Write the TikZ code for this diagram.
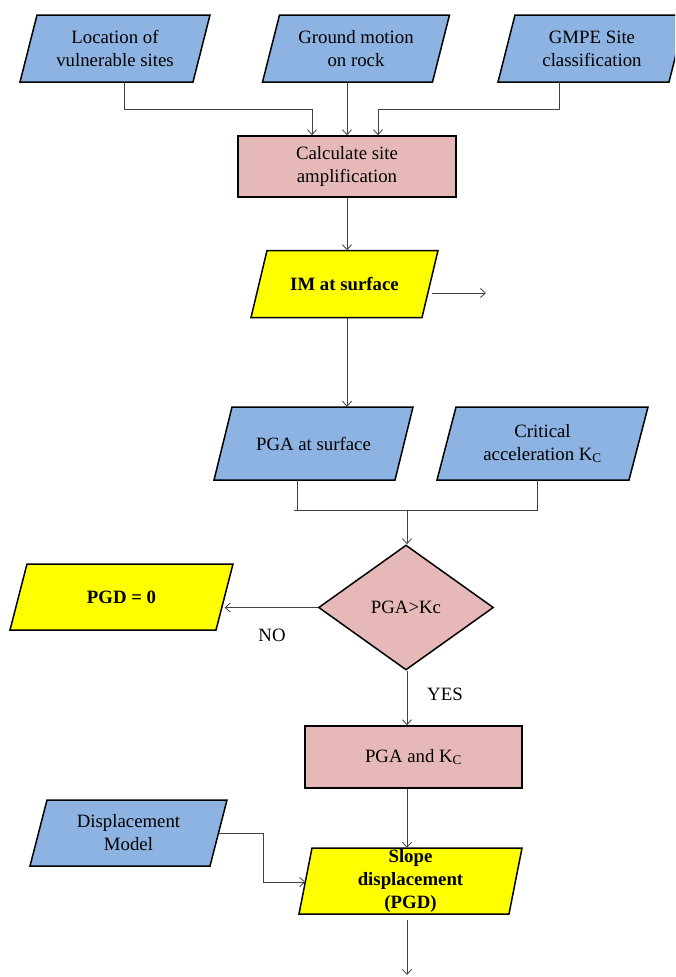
\documentclass[tikz,border=0pt]{standalone}
\usepackage{fontspec}
\setmainfont{Liberation Serif}
\usetikzlibrary{shapes.geometric,arrows.meta}
\definecolor{inblue}{HTML}{8DB3E2}
\definecolor{procpink}{HTML}{E6B9B8}
\definecolor{outyellow}{HTML}{FFFF00}
% Parallelogram box: #1 look, #2 name, #3/#4 centre, #5 full width, #6 height, #7 slant, #8 text
\newcommand\paranode[8]{%
  \filldraw[#1] ({#3-#5/2+#7},{#4-#6/2}) -- ({#3+#5/2},{#4-#6/2})
    -- ({#3+#5/2-#7},{#4+#6/2}) -- ({#3-#5/2},{#4+#6/2}) -- cycle;
  \node[#1 text,minimum width={#5-#7},minimum height=#6] (#2) at (#3,#4) {#8};
}
\begin{document}
\begin{tikzpicture}[x=1pt,y=-1pt,
  font=\fontsize{18.8}{23}\selectfont,
  edge/.style={draw=black,line width=1.5pt},
  datain/.style={edge,fill=inblue},
  result/.style={edge,fill=outyellow},
  datain text/.style={rectangle,inner sep=0pt,align=center},
  result text/.style={rectangle,inner sep=0pt,align=center,font=\fontsize{18.8}{23}\selectfont\bfseries},
  proc/.style={edge,rectangle,inner sep=0pt,align=center,fill=procpink},
  decide/.style={edge,diamond,inner sep=0pt,fill=procpink},
  link/.style={draw=black!75,line width=0.8pt},
  arr/.style={link,-{Straight Barb[length=5pt,width=9pt]}},
  lbl/.style={font=\fontsize{18.8}{23}\selectfont}
]
\useasboundingbox[fill=white] (0,0) rectangle (675,977);
\clip (0,0) rectangle (675,977);

% inputs
\paranode{datain}{loc}{115}{48.5}{190}{67}{17}{Location of\\vulnerable sites}
\paranode{datain}{gm}{356}{48.5}{187}{67}{17}{Ground motion\\on rock}
\paranode{datain}{gmpe}{592}{48.5}{188}{67}{17}{GMPE Site\\classification}

\node[proc,minimum width=218pt,minimum height=61pt] (calc) at (347,166.5) {Calculate site\\amplification};
\paranode{result}{im}{344.5}{284}{187}{67}{16}{IM at surface}

\paranode{datain}{pga}{313.5}{443.5}{199}{73}{18}{PGA at surface}
\paranode{datain}{kc}{542.5}{443.5}{211}{73}{19}{Critical\\acceleration K\textsubscript{C}}

\node[decide,minimum width=175pt,minimum height=125pt] (dia) at (406,607.5) {PGA>Kc};
\paranode{result}{pgd0}{121.5}{597}{223}{66}{17}{PGD = 0}

\node[proc,minimum width=217pt,minimum height=62pt] (pgakc) at (413.5,757) {PGA and K\textsubscript{C}};
\paranode{datain}{dm}{128.5}{833}{197}{66}{17}{Displacement\\Model}
\paranode{result}{slope}{410.5}{881}{223}{66}{13}{Slope\\displacement\\(PGD)}

% connectors
\coordinate (ta) at (124,109);
\coordinate (tb) at (312,109);
\coordinate (tc) at (559,109);
\coordinate (td) at (378,109);
\draw[arr] (loc.south -| ta) -- (ta) -- (tb) -- (tb |- calc.north);
\draw[arr] (gm.south -| calc.north) -- (calc.north);
\draw[arr] (gmpe.south -| tc) -- (tc) -- (td) -- (td |- calc.north);
\draw[arr] (calc.south) -- (calc.south |- im.north);
\coordinate (imout) at (486,293);
\draw[arr,shorten <=2pt] (im.east |- imout) -- (imout);
\draw[arr] (calc.south |- im.south) -- (calc.south |- pga.north);

\coordinate (m0) at (294,510);
\coordinate (ma) at (297,510);
\coordinate (mb) at (537,510);
\coordinate (mc) at (407,510);
\draw[link] (pga.south -| ma) -- (ma);
\draw[link] (m0) -- (mb) -- (kc.south -| mb);
\draw[arr] (mc) -- (mc |- dia.north);

\draw[arr] (dia.west) -- (dia.west -| pgd0.east);
\node[lbl] (no) at (272,635) {NO};
\draw[arr] (mc |- dia.south) -- (mc |- pgakc.north);
\node[lbl] (yes) at (445,694) {YES};
\draw[arr] (mc |- pgakc.south) -- (mc |- slope.north);

\coordinate (dj) at (263,882);
\draw[arr] (dm.east) -| (dj) -- (dj -| slope.west);
\coordinate (out) at (407,975);
\draw[arr,shorten <=6pt] (slope.south -| out) -- (out);
\end{tikzpicture}
\end{document}
